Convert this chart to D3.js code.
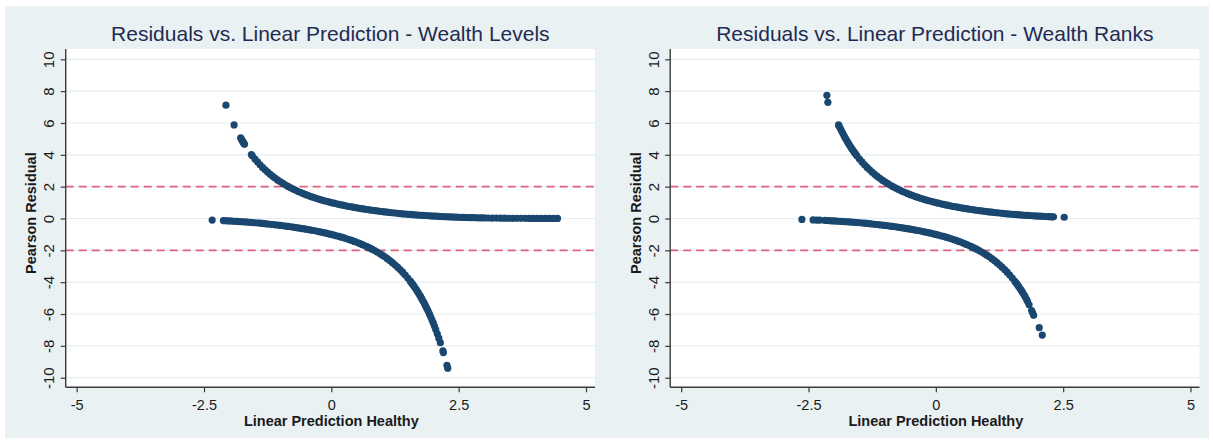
<!DOCTYPE html>
<html>
<head>
<meta charset="utf-8">
<script src="https://cdn.jsdelivr.net/npm/d3@7"></script>
<style>
  html, body { margin: 0; padding: 0; background: #ffffff; }
  svg { display: block; font-family: "Liberation Sans", Arial, sans-serif; }
</style>
</head>
<body>
<svg id="chart" width="1213" height="443"></svg>
<script>
// ---- chart text and ticks ----
const panelTitles = [
  "Residuals vs. Linear Prediction - Wealth Levels",
  "Residuals vs. Linear Prediction - Wealth Ranks"
];
const xAxisTitle = "Linear Prediction Healthy";
const yAxisTitle = "Pearson Residual";
const xTickValues = [-5, -2.5, 0, 2.5, 5];
const xTickLabels = ["-5", "-2.5", "0", "2.5", "5"];
const yTickValues = [-10, -8, -6, -4, -2, 0, 2, 4, 6, 8, 10];
const yTickLabels = ["-10", "-8", "-6", "-4", "-2", "0", "2", "4", "6", "8", "10"];
const referenceLines = [-2, 2];

// ---- residuals: [linear prediction, Pearson residual] ----
// Wealth levels model, healthy = 1
const levelsHealthy = [
  [-2.07,7.12],[-1.91,5.88],[-1.78,5.07],[-1.765,4.98],[-1.75,4.9],[-1.735,4.81],[-1.72,4.73],[-1.705,4.66],[-1.57,4.02],
  [-1.55,3.94],[-1.5,3.738],[-1.45,3.551],[-1.4,3.373],[-1.35,3.21],[-1.3,3.055],[-1.25,2.911],[-1.2,2.773],[-1.15,2.646],[-1.1,2.524],
  [-1.05,2.41],[-1,2.302],[-0.95,2.201],[-0.9,2.105],[-0.85,2.015],[-0.8,1.929],[-0.75,1.848],[-0.7,1.77],[-0.65,1.697],[-0.6,1.627],
  [-0.55,1.561],[-0.5,1.497],[-0.45,1.437],[-0.4,1.379],[-0.35,1.324],[-0.3,1.272],[-0.25,1.221],[-0.2,1.173],[-0.15,1.127],[-0.1,1.083],
  [-0.05,1.041],[0,1],[0.05,0.961],[0.1,0.923],[0.15,0.887],[0.2,0.853],[0.25,0.819],[0.3,0.786],[0.35,0.755],[0.4,0.725],
  [0.45,0.696],[0.5,0.668],[0.55,0.641],[0.6,0.615],[0.65,0.589],[0.7,0.565],[0.75,0.541],[0.8,0.518],[0.85,0.496],[0.9,0.475],
  [0.95,0.454],[1,0.434],[1.05,0.415],[1.1,0.396],[1.15,0.378],[1.2,0.361],[1.25,0.344],[1.3,0.327],[1.35,0.312],[1.4,0.296],
  [1.45,0.282],[1.5,0.268],[1.55,0.254],[1.6,0.241],[1.65,0.228],[1.7,0.216],[1.75,0.204],[1.8,0.193],[1.85,0.182],[1.9,0.172],
  [1.95,0.162],[2,0.153],[2.05,0.143],[2.1,0.135],[2.15,0.127],[2.2,0.119],[2.25,0.111],[2.3,0.104],[2.35,0.097],[2.4,0.091],
  [2.45,0.085],[2.5,0.079],[2.55,0.073],[2.6,0.068],[2.65,0.064],[2.7,0.059],[2.75,0.055],[2.8,0.051],[2.85,0.047],[2.9,0.043],
  [2.95,0.04],[3,0.037],[3.08,0.032],[3.16,0.028],[3.24,0.024],[3.32,0.021],[3.4,0.018],[3.48,0.016],[3.56,0.014],[3.64,0.012],
  [3.72,0.01],[3.8,0.009],[3.88,0.007],[3.96,0.006],[4.04,0.005],[4.12,0.004],[4.2,0.004],[4.28,0.003],[4.36,0.003],[4.44,0.002]
];
// Wealth levels model, healthy = 0
const levelsUnhealthy = [
  [-2.34,-0.098],[-2.12,-0.132],
  [-2.1,-0.135],[-2.05,-0.143],[-2,-0.153],[-1.95,-0.162],[-1.9,-0.172],[-1.85,-0.182],[-1.8,-0.193],[-1.75,-0.204],[-1.7,-0.216],
  [-1.65,-0.228],[-1.6,-0.241],[-1.55,-0.254],[-1.5,-0.268],[-1.45,-0.282],[-1.4,-0.296],[-1.35,-0.312],[-1.3,-0.327],[-1.25,-0.344],
  [-1.2,-0.361],[-1.15,-0.378],[-1.1,-0.396],[-1.05,-0.415],[-1,-0.434],[-0.95,-0.454],[-0.9,-0.475],[-0.85,-0.496],[-0.8,-0.518],
  [-0.75,-0.541],[-0.7,-0.565],[-0.65,-0.589],[-0.6,-0.615],[-0.55,-0.641],[-0.5,-0.668],[-0.45,-0.696],[-0.4,-0.725],[-0.35,-0.755],
  [-0.3,-0.786],[-0.25,-0.819],[-0.2,-0.853],[-0.15,-0.887],[-0.1,-0.923],[-0.05,-0.961],[0,-1],[0.05,-1.041],[0.1,-1.083],
  [0.15,-1.127],[0.2,-1.173],[0.25,-1.221],[0.3,-1.272],[0.35,-1.324],[0.4,-1.379],[0.45,-1.437],[0.5,-1.497],[0.55,-1.561],
  [0.6,-1.627],[0.65,-1.697],[0.7,-1.77],[0.75,-1.848],[0.8,-1.929],[0.85,-2.015],[0.9,-2.105],[0.95,-2.201],[1,-2.302],
  [1.05,-2.41],[1.1,-2.524],[1.15,-2.646],[1.2,-2.773],[1.25,-2.911],[1.3,-3.055],[1.35,-3.21],[1.4,-3.373],[1.45,-3.551],
  [1.5,-3.738],[1.55,-3.94],[1.575,-4.045],[1.6,-4.153],[1.625,-4.267],[1.65,-4.384],[1.675,-4.504],[1.7,-4.628],[1.725,-4.761],
  [1.75,-4.897],[1.775,-5.037],[1.8,-5.182],[1.825,-5.334],[1.85,-5.49],[1.875,-5.651],[1.9,-5.817],[1.925,-5.993],[1.95,-6.174],
  [1.975,-6.361],[2,-6.554],[2.025,-6.76],[2.05,-6.972],[2.08,-7.24],[2.11,-7.52],[2.14,-7.8],[2.19,-8.32],[2.2,-8.42],
  [2.27,-9.22],[2.285,-9.4]
];
// Wealth ranks model, healthy = 1
const ranksHealthy = [
  [-2.14,7.74],[-2.12,7.3],
  [-1.91,5.88],[-1.9,5.817],[-1.875,5.651],[-1.85,5.49],[-1.825,5.334],[-1.8,5.182],[-1.775,5.037],[-1.75,4.897],[-1.725,4.761],
  [-1.7,4.628],[-1.675,4.504],[-1.65,4.384],[-1.625,4.267],[-1.6,4.153],[-1.575,4.045],
  [-1.55,3.94],[-1.5,3.738],[-1.45,3.551],[-1.4,3.373],[-1.35,3.21],[-1.3,3.055],[-1.25,2.911],[-1.2,2.773],[-1.15,2.646],[-1.1,2.524],
  [-1.05,2.41],[-1,2.302],[-0.95,2.201],[-0.9,2.105],[-0.85,2.015],[-0.8,1.929],[-0.75,1.848],[-0.7,1.77],[-0.65,1.697],[-0.6,1.627],
  [-0.55,1.561],[-0.5,1.497],[-0.45,1.437],[-0.4,1.379],[-0.35,1.324],[-0.3,1.272],[-0.25,1.221],[-0.2,1.173],[-0.15,1.127],[-0.1,1.083],
  [-0.05,1.041],[0,1],[0.05,0.961],[0.1,0.923],[0.15,0.887],[0.2,0.853],[0.25,0.819],[0.3,0.786],[0.35,0.755],[0.4,0.725],
  [0.45,0.696],[0.5,0.668],[0.55,0.641],[0.6,0.615],[0.65,0.589],[0.7,0.565],[0.75,0.541],[0.8,0.518],[0.85,0.496],[0.9,0.475],
  [0.95,0.454],[1,0.434],[1.05,0.415],[1.1,0.396],[1.15,0.378],[1.2,0.361],[1.25,0.344],[1.3,0.327],[1.35,0.312],[1.4,0.296],
  [1.45,0.282],[1.5,0.268],[1.55,0.254],[1.6,0.241],[1.65,0.228],[1.7,0.216],[1.75,0.204],[1.8,0.193],[1.85,0.182],[1.9,0.172],
  [1.95,0.162],[2,0.153],[2.05,0.143],[2.1,0.135],[2.15,0.127],[2.2,0.119],[2.24,0.113],[2.28,0.107],[2.31,0.103],[2.52,0.078]
];
// Wealth ranks model, healthy = 0
const ranksUnhealthy = [
  [-2.63,-0.06],[-2.41,-0.09],[-2.34,-0.098],[-2.28,-0.107],[-2.18,-0.122],[-2.15,-0.127],
  [-2.1,-0.135],[-2.05,-0.143],[-2,-0.153],[-1.95,-0.162],[-1.9,-0.172],[-1.85,-0.182],[-1.8,-0.193],[-1.75,-0.204],[-1.7,-0.216],
  [-1.65,-0.228],[-1.6,-0.241],[-1.55,-0.254],[-1.5,-0.268],[-1.45,-0.282],[-1.4,-0.296],[-1.35,-0.312],[-1.3,-0.327],[-1.25,-0.344],
  [-1.2,-0.361],[-1.15,-0.378],[-1.1,-0.396],[-1.05,-0.415],[-1,-0.434],[-0.95,-0.454],[-0.9,-0.475],[-0.85,-0.496],[-0.8,-0.518],
  [-0.75,-0.541],[-0.7,-0.565],[-0.65,-0.589],[-0.6,-0.615],[-0.55,-0.641],[-0.5,-0.668],[-0.45,-0.696],[-0.4,-0.725],[-0.35,-0.755],
  [-0.3,-0.786],[-0.25,-0.819],[-0.2,-0.853],[-0.15,-0.887],[-0.1,-0.923],[-0.05,-0.961],[0,-1],[0.05,-1.041],[0.1,-1.083],
  [0.15,-1.127],[0.2,-1.173],[0.25,-1.221],[0.3,-1.272],[0.35,-1.324],[0.4,-1.379],[0.45,-1.437],[0.5,-1.497],[0.55,-1.561],
  [0.6,-1.627],[0.65,-1.697],[0.7,-1.77],[0.75,-1.848],[0.8,-1.929],[0.85,-2.015],[0.9,-2.105],[0.95,-2.201],[1,-2.302],
  [1.05,-2.41],[1.1,-2.524],[1.15,-2.646],[1.2,-2.773],[1.25,-2.911],[1.3,-3.055],[1.35,-3.21],[1.4,-3.373],[1.45,-3.551],
  [1.5,-3.738],[1.55,-3.94],[1.575,-4.045],[1.6,-4.153],[1.625,-4.267],[1.65,-4.384],[1.675,-4.504],[1.7,-4.628],[1.725,-4.761],
  [1.75,-4.897],[1.78,-5.08],[1.8,-5.2],[1.83,-5.42],[1.88,-5.78],[1.9,-5.92],[1.92,-6.08],[2.03,-6.86],[2.09,-7.32]
];

const panels = [
  { title: panelTitles[0], series: [levelsHealthy, levelsUnhealthy] },
  { title: panelTitles[1], series: [ranksHealthy, ranksUnhealthy] }
];

// ---- layout ----
const svg = d3.select("#chart");
const colors = {
  background: "#eaf1f3",
  grid: "#e4edf0",
  axis: "#3a3a3a",
  text: "#1a1a1a",
  title: "#1e2b52",
  reference: "#e0607e",
  marker: "#1a476f"
};

svg.append("rect")
  .attr("x", 5).attr("y", 6).attr("width", 1204).attr("height", 432)
  .attr("fill", colors.background);

const panelShift = 604.5;
const plotBox = { left: 65.7, right: 595, top: 49, bottom: 387.3 };
const xRange = [76.7, 586];
const yRange = [377.7, 59.3];

panels.forEach((panel, i) => {
  const dx = i * panelShift;
  const g = svg.append("g").attr("transform", `translate(${dx},0)`);

  const x = d3.scaleLinear().domain([-5, 5]).range(xRange);
  const y = d3.scaleLinear().domain([-10, 10]).range(yRange);

  // plot region
  g.append("rect")
    .attr("x", plotBox.left).attr("y", plotBox.top)
    .attr("width", plotBox.right - plotBox.left)
    .attr("height", plotBox.bottom - plotBox.top)
    .attr("fill", "#ffffff");

  // horizontal grid
  g.append("g").selectAll("line").data(yTickValues).join("line")
    .attr("x1", plotBox.left).attr("x2", plotBox.right)
    .attr("y1", d => y(d)).attr("y2", d => y(d))
    .attr("stroke", colors.grid).attr("stroke-width", 1.2);

  // reference lines at +/-2
  g.append("g").selectAll("line").data(referenceLines).join("line")
    .attr("x1", plotBox.left).attr("x2", plotBox.right)
    .attr("y1", d => y(d)).attr("y2", d => y(d))
    .attr("stroke", colors.reference).attr("stroke-width", 1.6)
    .attr("stroke-dasharray", "8,5");

  // residual markers
  panel.series.forEach(pts => {
    g.append("g").selectAll("circle").data(pts).join("circle")
      .attr("cx", d => x(d[0])).attr("cy", d => y(d[1]))
      .attr("r", 3.6).attr("fill", colors.marker);
  });

  // y axis
  const yAxis = d3.axisLeft(y).tickValues(yTickValues)
    .tickFormat((d, k) => yTickLabels[k]).tickSize(5).tickSizeOuter(0);
  const ya = g.append("g").attr("transform", `translate(${plotBox.left},0)`).call(yAxis);
  ya.select(".domain").remove();
  ya.selectAll(".tick line").attr("stroke", colors.axis).attr("stroke-width", 1.2);
  ya.selectAll(".tick text")
    .attr("x", 0).attr("y", -11.7).attr("dy", 0)
    .attr("transform", "rotate(-90)")
    .attr("text-anchor", "middle")
    .attr("font-size", 15).attr("fill", colors.text)
    .attr("font-family", "Liberation Sans, Arial, sans-serif");

  // x axis
  const xAxis = d3.axisBottom(x).tickValues(xTickValues)
    .tickFormat((d, k) => xTickLabels[k]).tickSize(5).tickSizeOuter(0);
  const xa = g.append("g").attr("transform", `translate(0,${plotBox.bottom})`).call(xAxis);
  xa.select(".domain").remove();
  xa.selectAll(".tick line").attr("stroke", colors.axis).attr("stroke-width", 1.2);
  xa.selectAll(".tick text")
    .attr("y", 22.5).attr("dy", 0)
    .attr("font-size", 14.5).attr("fill", colors.text)
    .attr("font-family", "Liberation Sans, Arial, sans-serif");

  // axis lines along the plot region edges
  g.append("line")
    .attr("x1", plotBox.left).attr("x2", plotBox.left)
    .attr("y1", plotBox.top).attr("y2", plotBox.bottom)
    .attr("stroke", colors.axis).attr("stroke-width", 1.4);
  g.append("line")
    .attr("x1", plotBox.left).attr("x2", plotBox.right)
    .attr("y1", plotBox.bottom).attr("y2", plotBox.bottom)
    .attr("stroke", colors.axis).attr("stroke-width", 1.4);

  // titles
  g.append("text")
    .attr("x", (plotBox.left + plotBox.right) / 2).attr("y", 40.5)
    .attr("text-anchor", "middle")
    .attr("font-size", 21).attr("fill", colors.title)
    .text(panel.title);

  g.append("text")
    .attr("x", x(0)).attr("y", 425.5)
    .attr("text-anchor", "middle")
    .attr("font-size", 14.5).attr("font-weight", "bold").attr("fill", colors.text)
    .text(xAxisTitle);

  g.append("text")
    .attr("transform", `translate(36,${(plotBox.top + plotBox.bottom) / 2 - 5}) rotate(-90)`)
    .attr("text-anchor", "middle")
    .attr("font-size", 14.5).attr("font-weight", "bold").attr("fill", colors.text)
    .text(yAxisTitle);
});
</script>
</body>
</html>
